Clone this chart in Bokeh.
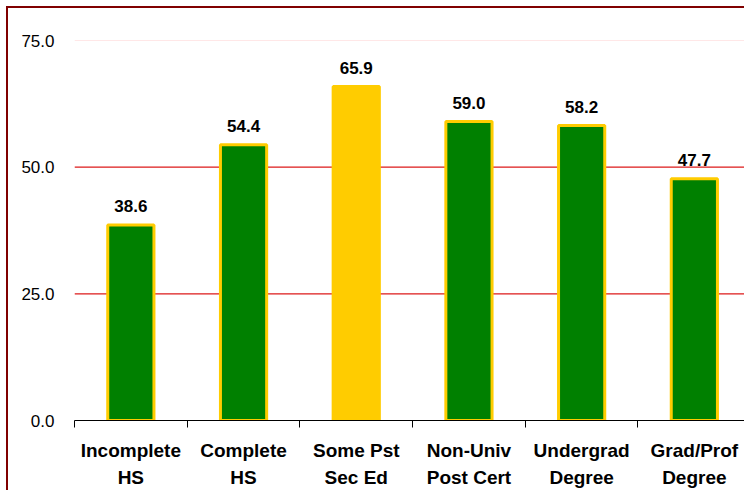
from bokeh.plotting import figure
from bokeh.models import Range1d, FixedTicker, Span, ColumnDataSource
from bokeh.core.properties import value
from bokeh.embed import file_html
from bokeh.resources import INLINE

categories = ["Incomplete\nHS", "Complete\nHS", "Some Pst\nSec Ed", "Non-Univ\nPost Cert", "Undergrad\nDegree", "Grad/Prof\nDegree"]
values = [38.6, 54.4, 65.9, 59.0, 58.2, 47.7]
highlight = [False, False, True, False, False, False]
y_ticks = [0, 25, 50, 75]
red_grid = [25, 50]
pale_grid = [75]

FONT = "Liberation Sans"
GREEN = "#008000"
GOLD = "#ffcc00"

xs = [i + 0.5 for i in range(len(categories))]
src = ColumnDataSource(dict(
    x=xs,
    top=values,
    fill=[GOLD if h else GREEN for h in highlight],
    label=["%.1f" % v for v in values],
))

p = figure(width=736, height=482, output_backend="svg", toolbar_location=None,
           x_range=Range1d(0, 5.945), y_range=Range1d(0, 75),
           min_border_left=66, min_border_right=0, min_border_top=32, min_border_bottom=70)
p.styles = {"margin-left": "8px", "margin-top": "8px", "outline": "2px solid #800000"}
p.background_fill_color = "white"
p.border_fill_color = "white"
p.outline_line_color = None

# grid lines
p.xgrid.visible = False
p.ygrid.visible = False
for g in red_grid:
    p.add_layout(Span(location=g, dimension="width", line_color="#dd1a1a", line_alpha=1.0,
                      line_width=1.3, level="underlay"))
for g in pale_grid:
    p.add_layout(Span(location=g, dimension="width", line_color="#ffd0d0", line_width=1,
                      level="underlay"))

p.vbar(x="x", top="top", width=0.41, bottom=0, source=src,
       fill_color="fill", line_color=GOLD, line_width=3)

p.text(x="x", y="top", text="label", source=src, y_offset=-19,
       text_align="center", text_baseline="alphabetic",
       text_font=value(FONT), text_font_style="bold", text_font_size="17px", text_color="black")

# y axis
yax = p.yaxis[0]
yax.ticker = FixedTicker(ticks=y_ticks)
yax.major_label_overrides = {t: "%.1f" % t for t in y_ticks}
yax.axis_line_color = None
yax.major_tick_line_color = None
yax.minor_tick_line_color = None
yax.major_label_standoff = 14
yax.major_label_text_font = FONT
yax.major_label_text_font_size = "17px"
yax.major_label_text_color = "black"

# x axis
xax = p.xaxis[0]
xax.ticker = FixedTicker(ticks=xs, minor_ticks=list(range(len(categories) + 1)))
xax.major_label_overrides = {x: c for x, c in zip(xs, categories)}
xax.axis_line_color = "black"
xax.axis_line_width = 1
xax.major_tick_line_color = None
xax.minor_tick_line_color = "black"
xax.minor_tick_out = 7
xax.minor_tick_in = 0
xax.major_label_standoff = 12
xax.major_label_text_font = FONT
xax.major_label_text_font_style = "bold"
xax.major_label_text_font_size = "19px"
xax.major_label_text_color = "black"
xax.major_label_text_line_height = 1.3

open("out.html", "w").write(file_html(p, INLINE))
